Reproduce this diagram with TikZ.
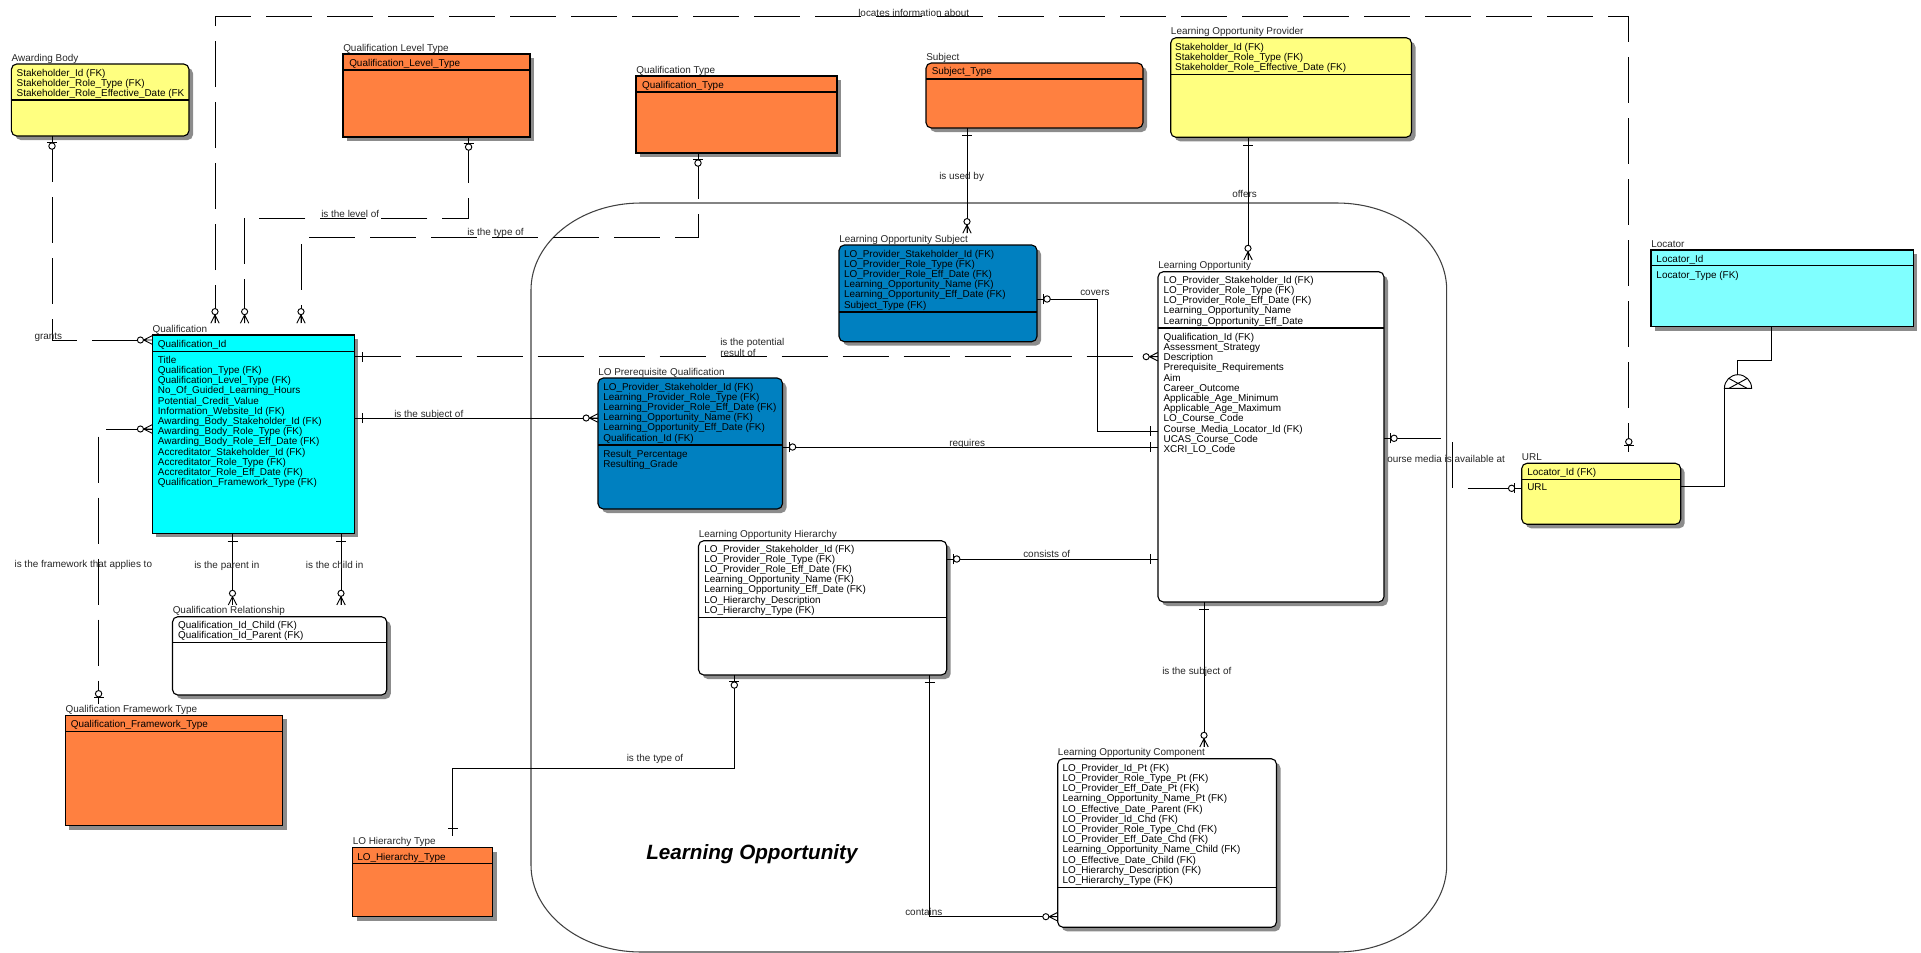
\documentclass[tikz,border=0pt]{standalone}
\usepackage{fontspec}
\setmainfont{Liberation Sans}
\usetikzlibrary{fit}
\definecolor{yel}{HTML}{FFFF80}
\definecolor{org}{HTML}{FF8040}
\definecolor{cya}{HTML}{00FFFF}
\definecolor{lcya}{HTML}{80FFFF}
\definecolor{blu}{HTML}{0080C0}
\definecolor{shd}{HTML}{8C8C8C}
\definecolor{lblc}{HTML}{262626}
\newcommand\erbox[9]{% name x1 y1 x2 y2 sep cornerstyle fill title
  \fill[eshadow,#7] (#2+4,#3+4) rectangle (#4+4,#5+4);
  \draw[boxline,fill=#8,#7] (#2,#3) rectangle (#4,#5);
  \draw[boxline] (#2,#6) -- (#4,#6);
  \node[etitle] (#1-title) at (#2,#3-2.8) {#9};
  \node[fit={(#2,#3-11.5) (#4,#5)}, inner sep=0pt] (#1) {};
}
\newcommand\erlines[5]{% prefix x y0 dy list
  \foreach \t [count=\i] in {#5} {\node[attr] (#1\i) at (#2,{#3+3.5+(\i-1)*#4}) {\t};}
}
\begin{document}
\begin{tikzpicture}[x=0.75pt,y=-0.75pt,
  conn/.style={draw=black, line width=0.7pt},
  dsh/.style={conn, dash pattern=on 34.5pt off 11.25pt},
  boxline/.style={draw=black, line width=0.85pt},
  eshadow/.style={fill=shd},
  rnd/.style={rounded corners=4pt},
  sq/.style={},
  lregion/.style={draw=black!75, line width=0.8pt},
  lbl/.style={anchor=base west, inner sep=0pt, text=lblc, font=\fontsize{7.45}{8}\selectfont},
  etitle/.style={anchor=base west, inner sep=0pt, text=lblc, font=\fontsize{7.45}{8}\selectfont},
  attr/.style={anchor=base west, inner sep=0pt, text=black, font=\fontsize{7.45}{8}\selectfont},
  zmany/.pic={\draw[conn] (-8.3,0)--(0,-4.2) (-8.3,0)--(0,4.2) (-8.3,0)--(0,0); \draw[conn,fill=white] (-11.6,0) circle[radius=2.3pt];},
  zone/.pic={\draw[conn] (-6.5,-5)--(-6.5,5); \draw[conn,fill=white] (-9.8,0) circle[radius=2.4pt]; \draw[conn] (-6.5,-5)--(-6.5,5);},
  onebar/.pic={\draw[conn] (-7.5,-5)--(-7.5,5);}
]
\useasboundingbox (0,0) rectangle (1921,953);

% Learning Opportunity subject area
\draw[lregion] (641,203) -- (1336.7,203)
  arc[start angle=90,end angle=0,x radius=82.5pt,y radius=65.25pt] -- (1446.7,865)
  arc[start angle=0,end angle=-90,x radius=82.5pt,y radius=65.25pt] -- (641,952)
  arc[start angle=270,end angle=180,x radius=82.5pt,y radius=65.25pt] -- (531,290)
  arc[start angle=180,end angle=90,x radius=82.5pt,y radius=65.25pt] -- cycle;
\node[anchor=base west, inner sep=0pt, font=\fontsize{15.5}{16}\selectfont\bfseries\itshape] (lotitle) at (646,859) {Learning Opportunity};

% entities
\erbox{ab}{11.4}{64}{189}{136}{100}{rnd}{yel}{Awarding Body}
\erbox{qlt}{343}{54}{530}{137}{70}{sq}{org}{Qualification Level Type}
\erbox{qt}{636}{76}{837}{153}{92}{sq}{org}{Qualification Type}
\erbox{subj}{926}{63}{1143}{128}{79}{rnd}{org}{Subject}
\erbox{lop}{1170.7}{37.7}{1411.5}{137.3}{74.7}{rnd}{yel}{Learning Opportunity Provider}
\erbox{loc8r}{1651}{250}{1913.4}{326.7}{265.7}{sq}{lcya}{Locator}
\erbox{qual}{152.3}{335}{354.3}{533.3}{351.3}{sq}{cya}{Qualification}
\erbox{los}{839}{245}{1037}{341.7}{312}{rnd}{blu}{Learning Opportunity Subject}
\erbox{lopq}{598}{378}{782.5}{509}{445}{rnd}{blu}{LO Prerequisite Qualification}
\erbox{lo}{1158}{271.7}{1384}{602}{328}{rnd}{white}{Learning Opportunity}
\erbox{url}{1521.7}{463.3}{1680.7}{524.3}{479.3}{rnd}{yel}{URL}
\erbox{qr}{172.5}{616.7}{386.8}{695}{642.3}{rnd}{white}{Qualification Relationship}
\erbox{qft}{65.4}{715.3}{282.5}{825.7}{731.3}{sq}{org}{Qualification Framework Type}
\erbox{loh}{698.5}{540.7}{946.7}{675}{617.7}{rnd}{white}{Learning Opportunity Hierarchy}
\erbox{loht}{352.5}{847.7}{492.5}{916.7}{863.3}{sq}{org}{LO Hierarchy Type}
\erbox{loc}{1057.7}{758.7}{1276.5}{927.3}{887.3}{rnd}{white}{Learning Opportunity Component}

% attributes
\erlines{ab-}{16.4}{72.7}{10}{Stakeholder\_Id (FK),Stakeholder\_Role\_Type (FK),Stakeholder\_Role\_Effective\_Date (FK}
\erlines{qlt-}{349}{62.7}{10}{Qualification\_Level\_Type}
\erlines{qt-}{641.8}{84.7}{10}{Qualification\_Type}
\erlines{subj-}{931.5}{71}{10}{Subject\_Type}
\erlines{lop-}{1174.9}{47}{10}{Stakeholder\_Id (FK),Stakeholder\_Role\_Type (FK),Stakeholder\_Role\_Effective\_Date (FK)}
\erlines{loc8r-}{1656.2}{258.5}{16.5}{Locator\_Id,Locator\_Type (FK)}
\erlines{qualk-}{157.7}{344}{10}{Qualification\_Id}
\erlines{quala-}{157.7}{359.7}{10.2}{Title,Qualification\_Type (FK),Qualification\_Level\_Type (FK),No\_Of\_Guided\_Learning\_Hours,Potential\_Credit\_Value,Information\_Website\_Id (FK),Awarding\_Body\_Stakeholder\_Id (FK),Awarding\_Body\_Role\_Type (FK),Awarding\_Body\_Role\_Eff\_Date (FK),Accreditator\_Stakeholder\_Id (FK),Accreditator\_Role\_Type (FK),Accreditator\_Role\_Eff\_Date (FK),Qualification\_Framework\_Type (FK)}
\erlines{los-}{843.8}{254}{10.1}{LO\_Provider\_Stakeholder\_Id (FK),LO\_Provider\_Role\_Type (FK),LO\_Provider\_Role\_Eff\_Date (FK),Learning\_Opportunity\_Name (FK),Learning\_Opportunity\_Eff\_Date (FK),Subject\_Type (FK)}
\erlines{lopqk-}{603}{387}{10.1}{LO\_Provider\_Stakeholder\_Id (FK),Learning\_Provider\_Role\_Type (FK),Learning\_Provider\_Role\_Eff\_Date (FK),Learning\_Opportunity\_Name (FK),Learning\_Opportunity\_Eff\_Date (FK),Qualification\_Id (FK)}
\erlines{lopqa-}{603}{454}{10}{Result\_Percentage,Resulting\_Grade}
\erlines{lok-}{1163.3}{279.7}{10.25}{LO\_Provider\_Stakeholder\_Id (FK),LO\_Provider\_Role\_Type (FK),LO\_Provider\_Role\_Eff\_Date (FK),Learning\_Opportunity\_Name,Learning\_Opportunity\_Eff\_Date}
\erlines{loa-}{1163.3}{336.7}{10.2}{Qualification\_Id (FK),Assessment\_Strategy,Description,Prerequisite\_Requirements,Aim,Career\_Outcome,Applicable\_Age\_Minimum,Applicable\_Age\_Maximum,LO\_Course\_Code,Course\_Media\_Locator\_Id (FK),UCAS\_Course\_Code,XCRI\_LO\_Code}
\erlines{url-}{1527}{471.7}{15.6}{Locator\_Id (FK),URL}
\erlines{qr-}{177.9}{624.7}{10}{Qualification\_Id\_Child (FK),Qualification\_Id\_Parent (FK)}
\erlines{qft-}{70.7}{723.7}{10}{Qualification\_Framework\_Type}
\erlines{loh-}{704}{549}{10.1}{LO\_Provider\_Stakeholder\_Id (FK),LO\_Provider\_Role\_Type (FK),LO\_Provider\_Role\_Eff\_Date (FK),Learning\_Opportunity\_Name (FK),Learning\_Opportunity\_Eff\_Date (FK),LO\_Hierarchy\_Description,LO\_Hierarchy\_Type (FK)}
\erlines{loht-}{357}{856.7}{10}{LO\_Hierarchy\_Type}
\erlines{loc-}{1062.3}{767.7}{10.2}{LO\_Provider\_Id\_Pt (FK),LO\_Provider\_Role\_Type\_Pt (FK),LO\_Provider\_Eff\_Date\_Pt (FK),Learning\_Opportunity\_Name\_Pt (FK),LO\_Effective\_Date\_Parent (FK),LO\_Provider\_Id\_Chd (FK),LO\_Provider\_Role\_Type\_Chd (FK),LO\_Provider\_Eff\_Date\_Chd (FK),Learning\_Opportunity\_Name\_Child (FK),LO\_Effective\_Date\_Child (FK),LO\_Hierarchy\_Description (FK),LO\_Hierarchy\_Type (FK)}

% connectors
% locates information about (Qualification - URL)
\draw[dsh, dash phase=6pt] (215,0 |- qual.north) -- (215,16.7) -- (1628.8,16.7) -- (1628.8,0 |- url.north);
\pic[rotate=-90] at (215,0 |- qual.north) {zmany};
\pic[rotate=-90] at (1628.8,0 |- url.north) {zone};
% grants
\draw[dsh] (52,0 |- ab.south) -- (52,340) -- (qual.west |- 0,340);
\pic[rotate=90] at (52,0 |- ab.south) {zone};
\pic at (qual.west |- 0,340) {zmany};
% is the level of
\draw[dsh] (468.6,0 |- qlt.south) -- (468.6,218) -- (244.6,218) -- (244.6,0 |- qual.north);
\pic[rotate=90] at (468.6,0 |- qlt.south) {zone};
\pic[rotate=-90] at (244.6,0 |- qual.north) {zmany};
% is the type of (qualification type)
\draw[dsh] (698,0 |- qt.south) -- (698,237) -- (301,237) -- (301,0 |- qual.north);
\pic[rotate=90] at (698,0 |- qt.south) {zone};
\pic[rotate=-90] at (301,0 |- qual.north) {zmany};
% is the framework that applies to
\draw[dsh] (qual.west |- 0,429) -- (98.6,429) -- (98.6,0 |- qft.north);
\pic at (qual.west |- 0,429) {zmany};
\pic[rotate=-90] at (98.6,0 |- qft.north) {zone};
% parent / child
\draw[conn] (232.5,0 |- qual.south) -- (232.5,0 |- qr.north);
\pic[rotate=90] at (232.5,0 |- qual.south) {onebar};
\pic[rotate=-90] at (232.5,0 |- qr.north) {zmany};
\draw[conn] (341,0 |- qual.south) -- (341,0 |- qr.north);
\pic[rotate=90] at (341,0 |- qual.south) {onebar};
\pic[rotate=-90] at (341,0 |- qr.north) {zmany};
% is the potential result of
\draw[dsh] (qual.east |- 0,356.7) -- (lo.west |- 0,356.7);
\pic[rotate=180] at (qual.east |- 0,356.7) {onebar};
\pic at (lo.west |- 0,356.7) {zmany};
% is the subject of (qualification - prerequisite)
\draw[conn] (qual.east |- 0,418) -- (lopq.west |- 0,418);
\pic[rotate=180] at (qual.east |- 0,418) {onebar};
\pic at (lopq.west |- 0,418) {zmany};
% requires
\draw[conn] (lopq.east |- 0,447) -- (lo.west |- 0,447);
\pic[rotate=180] at (lopq.east |- 0,447) {zone};
\pic at (lo.west |- 0,447) {onebar};
% covers
\draw[conn] (los.east |- 0,299) -- (1097.5,299) -- (1097.5,431.3) -- (lo.west |- 0,431.3);
\pic[rotate=180] at (los.east |- 0,299) {zone};
\pic at (lo.west |- 0,431.3) {onebar};
% is used by
\draw[conn] (967,0 |- subj.south) -- (967,0 |- los.north);
\pic[rotate=90] at (967,0 |- subj.south) {onebar};
\pic[rotate=-90] at (967,0 |- los.north) {zmany};
% offers
\draw[conn] (1248,0 |- lop.south) -- (1248,0 |- lo.north);
\pic[rotate=90] at (1248,0 |- lop.south) {onebar};
\pic[rotate=-90] at (1248,0 |- lo.north) {zmany};
% consists of
\draw[conn] (loh.east |- 0,559) -- (lo.west |- 0,559);
\pic[rotate=180] at (loh.east |- 0,559) {zone};
\pic at (lo.west |- 0,559) {onebar};
% is the subject of (LO - component)
\draw[conn] (1204,0 |- lo.south) -- (1204,0 |- loc.north);
\pic[rotate=90] at (1204,0 |- lo.south) {onebar};
\pic[rotate=-90] at (1204,0 |- loc.north) {zmany};
% contains
\draw[conn] (929.7,0 |- loh.south) -- (929.7,916.7) -- (loc.west |- 0,916.7);
\pic[rotate=90] at (929.7,0 |- loh.south) {onebar};
\pic at (loc.west |- 0,916.7) {zmany};
% is the type of (hierarchy type)
\draw[conn] (734.3,0 |- loh.south) -- (734.3,768.3) -- (452.5,768.3) -- (452.5,0 |- loht.north);
\pic[rotate=90] at (734.3,0 |- loh.south) {zone};
\pic[rotate=-90] at (452.5,0 |- loht.north) {onebar};
% course media is available at
\coordinate (cm1) at (1440.7,438.3);
\coordinate (cm2) at (1452.4,442.3);
\coordinate (cm3) at (1452.4,488.3);
\coordinate (cm4) at (1467.7,488.3);
\draw[conn] (lo.east |- cm1) -- (cm1);
\draw[conn] (cm2) -- (cm3);
\draw[conn] (cm4) -- (url.west |- cm4);
\pic[rotate=180] at (lo.east |- cm1) {zone};
\pic at (url.west |- cm4) {zone};
% Locator subtype URL
\coordinate (st1) at (1771,360);
\coordinate (st2) at (1737.6,360);
\coordinate (sttop) at (1737.6,374.6);
\coordinate (stl) at (1724.4,388.3);
\coordinate (str) at (1751.6,388.3);
\draw[conn] (st1 |- loc8r.south) -- (st1) -- (st2) -- (sttop);
\draw[conn] (stl) arc[start angle=180,end angle=0,radius=10.2pt] -- cycle;
\draw[conn] (1729,378.5) -- (1747,388.3) (1747,378.5) -- (1729,388.3);
\draw[conn] (stl) -- (1724.4,486.7) -- (url.east |- 0,486.7);

% relationship labels
\node[lbl] (l1) at (858,16.2) {locates information about};
\node[lbl] (l2) at (321,217.2) {is the level of};
\node[lbl] (l3) at (467,235.5) {is the type of};
\node[lbl] (l4) at (34.3,339.5) {grants};
\node[lbl] (l5) at (720,345.5) {is the potential};
\node[lbl] (l5b) at (720,356.5) {result of};
\node[lbl] (l6) at (394,417.5) {is the subject of};
\node[lbl] (l7) at (14.3,567.5) {is the framework that applies to};
\node[lbl] (l8) at (194,568.2) {is the parent in};
\node[lbl] (l9) at (305.7,568.2) {is the child in};
\node[lbl] (l10) at (939,179.5) {is used by};
\node[lbl] (l11) at (1232,197.5) {offers};
\node[lbl] (l12) at (1080,295.5) {covers};
\node[lbl] (l13) at (949,446.5) {requires};
\node[lbl] (l14) at (1023,557.2) {consists of};
\node[lbl] (l15) at (1162,674.5) {is the subject of};
\node[lbl] (l16) at (626.5,761.5) {is the type of};
\node[lbl] (l17) at (905,915.5) {contains};
\node[lbl] (l18) at (1387,462.5) {ourse media is available at};
\end{tikzpicture}
\end{document}
